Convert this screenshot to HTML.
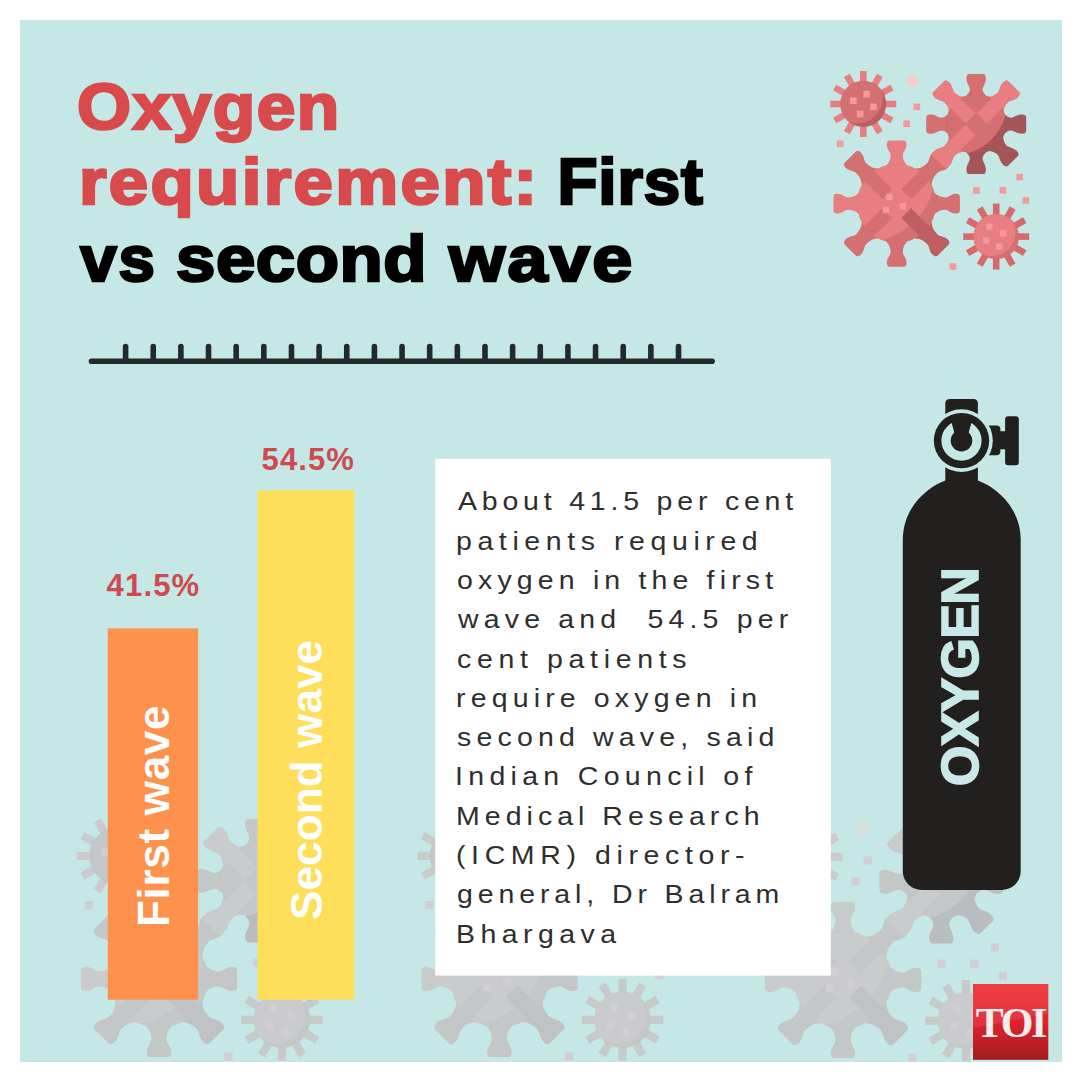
<!DOCTYPE html>
<html><head><meta charset="utf-8"><title>Oxygen requirement: First vs second wave</title>
<style>
html,body{margin:0;padding:0;background:#fff;}
body{width:1080px;height:1080px;position:relative;overflow:hidden;font-family:"Liberation Sans",sans-serif;}
.t{position:absolute;white-space:pre;line-height:1;display:block;transform-origin:0 0;}
</style></head><body>
<svg width="1080" height="1080" viewBox="0 0 1080 1080" style="position:absolute;left:0;top:0">
<defs><clipPath id="panel"><rect x="20" y="20" width="1042" height="1042"/></clipPath><linearGradient id="toig" x1="0" y1="0" x2="0" y2="1"><stop offset="0" stop-color="#ee2a33"/><stop offset="0.5" stop-color="#e0222b"/><stop offset="1" stop-color="#a31c20"/></linearGradient></defs>
<rect x="20" y="20" width="1042" height="1042" fill="#c5e7e5"/>
<g clip-path="url(#panel)">
<g transform="translate(159 979) scale(1.236) translate(-896.7 -203.6)">
<defs><clipPath id="ca1"><circle r="22.9"/></clipPath><clipPath id="cb1"><circle r="30"/></clipPath><clipPath id="cc1"><circle r="39.5"/></clipPath><clipPath id="cd1"><circle r="22.7"/></clipPath></defs>
<rect x="913.5" y="103.6" width="6.6" height="6.6" fill="#d1cfd2"/>
<rect x="903.3" y="120.4" width="6.6" height="6.6" fill="#d1cfd2"/>
<rect x="836.8" y="140.5" width="6.6" height="6.6" fill="#d1cfd2"/>
<rect x="1016.3" y="173.8" width="6.6" height="6.6" fill="#d1cfd2"/>
<rect x="973.1" y="187.1" width="6.6" height="6.6" fill="#d1cfd2"/>
<rect x="999.6" y="187.1" width="6.6" height="6.6" fill="#d1cfd2"/>
<rect x="1022.6" y="197.1" width="6.6" height="6.6" fill="#d1cfd2"/>
<rect x="949.7" y="263.1" width="6.6" height="6.6" fill="#d1cfd2"/>
<circle cx="912.7" cy="80.9" r="6.1" fill="#d6dede"/>
<g transform="translate(863.3 104)">
<rect x="-3.3" y="-33" width="6.6" height="14" fill="#c9cbcd" transform="rotate(0)"/>
<rect x="-3.3" y="-33" width="6.6" height="14" fill="#c9cbcd" transform="rotate(30)"/>
<rect x="-3.3" y="-33" width="6.6" height="14" fill="#c9cbcd" transform="rotate(60)"/>
<rect x="-3.3" y="-33" width="6.6" height="14" fill="#c9cbcd" transform="rotate(90)"/>
<rect x="-3.3" y="-33" width="6.6" height="14" fill="#c9cbcd" transform="rotate(120)"/>
<rect x="-3.3" y="-33" width="6.6" height="14" fill="#c9cbcd" transform="rotate(150)"/>
<rect x="-3.3" y="-33" width="6.6" height="14" fill="#c9cbcd" transform="rotate(180)"/>
<rect x="-3.3" y="-33" width="6.6" height="14" fill="#c9cbcd" transform="rotate(210)"/>
<rect x="-3.3" y="-33" width="6.6" height="14" fill="#c9cbcd" transform="rotate(240)"/>
<rect x="-3.3" y="-33" width="6.6" height="14" fill="#c9cbcd" transform="rotate(270)"/>
<rect x="-3.3" y="-33" width="6.6" height="14" fill="#c9cbcd" transform="rotate(300)"/>
<rect x="-3.3" y="-33" width="6.6" height="14" fill="#c9cbcd" transform="rotate(330)"/>
<circle r="22.9" fill="#bfc3c5"/>
<circle cx="-6" cy="-6" r="25.5" fill="#c3c7c8" clip-path="url(#ca1)"/>
<rect x="0" y="-13.2" width="6.6" height="6.6" fill="#d1cfd2"/>
<rect x="-13.2" y="-6.6" width="6.6" height="6.6" fill="#d1cfd2"/>
<rect x="6.9" y="-0.4" width="6.6" height="6.6" fill="#d1cfd2"/>
<rect x="-6.4" y="6.7" width="6.6" height="6.6" fill="#d1cfd2"/>
</g>
<g transform="translate(896.7 203.6)">
<path d="M-10.5 -35.5L-10.5 -38C-7.6 -41 -6.1 -44.35 -6.1 -48.7C-6.1 -51.7 -9.85 -54.7 -9.85 -58.7C-9.85 -62.2 -8.85 -63.2 -6.35 -63.2L6.35 -63.2C8.85 -63.2 9.85 -62.2 9.85 -58.7C9.85 -54.7 6.1 -51.7 6.1 -48.7C6.1 -44.35 7.6 -41 10.5 -38L10.5 -35.5Z" fill="#c9cbcd" transform="rotate(0)"/>
<path d="M-10.5 -35.5L-10.5 -38C-7.6 -41 -6.1 -44.35 -6.1 -48.7C-6.1 -51.7 -9.85 -54.7 -9.85 -58.7C-9.85 -62.2 -8.85 -63.2 -6.35 -63.2L6.35 -63.2C8.85 -63.2 9.85 -62.2 9.85 -58.7C9.85 -54.7 6.1 -51.7 6.1 -48.7C6.1 -44.35 7.6 -41 10.5 -38L10.5 -35.5Z" fill="#c9cbcd" transform="rotate(270)"/>
<path d="M-10.5 -35.5L-10.5 -38C-7.6 -41 -6.1 -44.35 -6.1 -48.7C-6.1 -51.7 -9.85 -54.7 -9.85 -58.7C-9.85 -62.2 -8.85 -63.2 -6.35 -63.2L6.35 -63.2C8.85 -63.2 9.85 -62.2 9.85 -58.7C9.85 -54.7 6.1 -51.7 6.1 -48.7C6.1 -44.35 7.6 -41 10.5 -38L10.5 -35.5Z" fill="#c3c7c8" transform="rotate(90)"/>
<path d="M-10.5 -35.5L-10.5 -38C-7.6 -41 -6.1 -44.35 -6.1 -48.7C-6.1 -51.7 -9.85 -54.7 -9.85 -58.7C-9.85 -62.2 -8.85 -63.2 -6.35 -63.2L6.35 -63.2C8.85 -63.2 9.85 -62.2 9.85 -58.7C9.85 -54.7 6.1 -51.7 6.1 -48.7C6.1 -44.35 7.6 -41 10.5 -38L10.5 -35.5Z" fill="#c3c7c8" transform="rotate(180)"/>
<path d="M-11.5 -35.5L-11.5 -38C-8.4 -41 -6.9 -45.25 -6.9 -50.5C-6.9 -53.5 -10.6 -56.77 -10.6 -60.77C-10.6 -64.5 -9.6 -65.5 -7.1 -65.5L7.1 -65.5C9.6 -65.5 10.6 -64.5 10.6 -60.77C10.6 -56.77 6.9 -53.5 6.9 -50.5C6.9 -45.25 8.4 -41 11.5 -38L11.5 -35.5Z" fill="#c3c7c8" transform="rotate(315)"/>
<path d="M-11.5 -35.5L-11.5 -38C-8.4 -41 -6.9 -45.25 -6.9 -50.5C-6.9 -53.5 -10.6 -56.77 -10.6 -60.77C-10.6 -64.5 -9.6 -65.5 -7.1 -65.5L7.1 -65.5C9.6 -65.5 10.6 -64.5 10.6 -60.77C10.6 -56.77 6.9 -53.5 6.9 -50.5C6.9 -45.25 8.4 -41 11.5 -38L11.5 -35.5Z" fill="#c3c7c8" transform="rotate(45)"/>
<path d="M-11.5 -35.5L-11.5 -38C-8.4 -41 -6.9 -45.25 -6.9 -50.5C-6.9 -53.5 -10.6 -56.77 -10.6 -60.77C-10.6 -64.5 -9.6 -65.5 -7.1 -65.5L7.1 -65.5C9.6 -65.5 10.6 -64.5 10.6 -60.77C10.6 -56.77 6.9 -53.5 6.9 -50.5C6.9 -45.25 8.4 -41 11.5 -38L11.5 -35.5Z" fill="#c3c7c8" transform="rotate(225)"/>
<path d="M-11.5 -35.5L-11.5 -38C-8.4 -41 -6.9 -45.25 -6.9 -50.5C-6.9 -53.5 -10.6 -56.77 -10.6 -60.77C-10.6 -64.5 -9.6 -65.5 -7.1 -65.5L7.1 -65.5C9.6 -65.5 10.6 -64.5 10.6 -60.77C10.6 -56.77 6.9 -53.5 6.9 -50.5C6.9 -45.25 8.4 -41 11.5 -38L11.5 -35.5Z" fill="#bfc3c5" transform="rotate(135)"/>
<circle r="39.5" fill="#c3c7c8"/>
<circle cx="-31.9" cy="-31.9" r="70.5" fill="#c9cbcd" clip-path="url(#cc1)"/>
<path d="M-6.9 -13.5L-6.9 -38C-8.4 -41 -6.9 -45.25 -6.9 -50.5C-6.9 -53.5 -10.6 -56.77 -10.6 -60.77C-10.6 -64.5 -9.6 -65.5 -7.1 -65.5L7.1 -65.5C9.6 -65.5 10.6 -64.5 10.6 -60.77C10.6 -56.77 6.9 -53.5 6.9 -50.5C6.9 -45.25 8.4 -41 6.9 -38L6.9 -13.5Z" fill="#c3c7c8" transform="rotate(315)"/>
<path d="M-6.9 -13.5L-6.9 -38C-8.4 -41 -6.9 -45.25 -6.9 -50.5C-6.9 -53.5 -10.6 -56.77 -10.6 -60.77C-10.6 -64.5 -9.6 -65.5 -7.1 -65.5L7.1 -65.5C9.6 -65.5 10.6 -64.5 10.6 -60.77C10.6 -56.77 6.9 -53.5 6.9 -50.5C6.9 -45.25 8.4 -41 6.9 -38L6.9 -13.5Z" fill="#c3c7c8" transform="rotate(45)"/>
<path d="M-6.9 -13.5L-6.9 -38C-8.4 -41 -6.9 -45.25 -6.9 -50.5C-6.9 -53.5 -10.6 -56.77 -10.6 -60.77C-10.6 -64.5 -9.6 -65.5 -7.1 -65.5L7.1 -65.5C9.6 -65.5 10.6 -64.5 10.6 -60.77C10.6 -56.77 6.9 -53.5 6.9 -50.5C6.9 -45.25 8.4 -41 6.9 -38L6.9 -13.5Z" fill="#c3c7c8" transform="rotate(225)"/>
<path d="M-6.9 -13.5L-6.9 -38C-8.4 -41 -6.9 -45.25 -6.9 -50.5C-6.9 -53.5 -10.6 -56.77 -10.6 -60.77C-10.6 -64.5 -9.6 -65.5 -7.1 -65.5L7.1 -65.5C9.6 -65.5 10.6 -64.5 10.6 -60.77C10.6 -56.77 6.9 -53.5 6.9 -50.5C6.9 -45.25 8.4 -41 6.9 -38L6.9 -13.5Z" fill="#bfc3c5" transform="rotate(135)"/>
<rect x="-10.5" y="-10" width="6.4" height="6.4" fill="#d1cfd2"/>
<rect x="2.9" y="-0.6" width="6.4" height="6.4" fill="#d1cfd2"/>
<rect x="-14" y="3.2" width="6.4" height="6.4" fill="#d1cfd2"/>
</g>
<g transform="translate(976.2 124.1)">
<path d="M-10.5 -25L-10.5 -27.5C-7.9 -30.5 -6.4 -32 -6.4 -34.5C-6.4 -37.5 -9.7 -41.05 -9.7 -45.05C-9.7 -49 -8.7 -50 -6.2 -50L6.2 -50C8.7 -50 9.7 -49 9.7 -45.05C9.7 -41.05 6.4 -37.5 6.4 -34.5C6.4 -32 7.9 -30.5 10.5 -27.5L10.5 -25Z" fill="#c3c7c8" transform="rotate(0)"/>
<path d="M-10.5 -25L-10.5 -27.5C-7.9 -30.5 -6.4 -32 -6.4 -34.5C-6.4 -37.5 -9.7 -41.05 -9.7 -45.05C-9.7 -49 -8.7 -50 -6.2 -50L6.2 -50C8.7 -50 9.7 -49 9.7 -45.05C9.7 -41.05 6.4 -37.5 6.4 -34.5C6.4 -32 7.9 -30.5 10.5 -27.5L10.5 -25Z" fill="#c3c7c8" transform="rotate(270)"/>
<path d="M-10.5 -25L-10.5 -27.5C-7.9 -30.5 -6.4 -32 -6.4 -34.5C-6.4 -37.5 -9.7 -41.05 -9.7 -45.05C-9.7 -49 -8.7 -50 -6.2 -50L6.2 -50C8.7 -50 9.7 -49 9.7 -45.05C9.7 -41.05 6.4 -37.5 6.4 -34.5C6.4 -32 7.9 -30.5 10.5 -27.5L10.5 -25Z" fill="#b9bdbf" transform="rotate(90)"/>
<path d="M-10.5 -25L-10.5 -27.5C-7.9 -30.5 -6.4 -32 -6.4 -34.5C-6.4 -37.5 -9.7 -41.05 -9.7 -45.05C-9.7 -49 -8.7 -50 -6.2 -50L6.2 -50C8.7 -50 9.7 -49 9.7 -45.05C9.7 -41.05 6.4 -37.5 6.4 -34.5C6.4 -32 7.9 -30.5 10.5 -27.5L10.5 -25Z" fill="#b9bdbf" transform="rotate(180)"/>
<path d="M-10.5 -25L-10.5 -27.5C-7.9 -30.5 -6.4 -33 -6.4 -36.5C-6.4 -39.5 -9.7 -43.05 -9.7 -47.05C-9.7 -51 -8.7 -52 -6.2 -52L6.2 -52C8.7 -52 9.7 -51 9.7 -47.05C9.7 -43.05 6.4 -39.5 6.4 -36.5C6.4 -33 7.9 -30.5 10.5 -27.5L10.5 -25Z" fill="#b9bdbf" transform="rotate(135)"/>
<path d="M-11.5 -25L-11.5 -27.5C-8.5 -30.5 -7 -33.5 -7 -37.5C-7 -40.5 -10.4 -44.05 -10.4 -48.05C-10.4 -52 -9.4 -53 -6.9 -53L6.9 -53C9.4 -53 10.4 -52 10.4 -48.05C10.4 -44.05 7 -40.5 7 -37.5C7 -33.5 8.5 -30.5 11.5 -27.5L11.5 -25Z" fill="#c9cbcd" transform="rotate(315)"/>
<path d="M-11.5 -25L-11.5 -27.5C-8.5 -30.5 -7 -33.5 -7 -37.5C-7 -40.5 -10.4 -44.05 -10.4 -48.05C-10.4 -52 -9.4 -53 -6.9 -53L6.9 -53C9.4 -53 10.4 -52 10.4 -48.05C10.4 -44.05 7 -40.5 7 -37.5C7 -33.5 8.5 -30.5 11.5 -27.5L11.5 -25Z" fill="#c9cbcd" transform="rotate(45)"/>
<path d="M-11.5 -25L-11.5 -27.5C-8.5 -30.5 -7 -33.5 -7 -37.5C-7 -40.5 -10.4 -44.05 -10.4 -48.05C-10.4 -52 -9.4 -53 -6.9 -53L6.9 -53C9.4 -53 10.4 -52 10.4 -48.05C10.4 -44.05 7 -40.5 7 -37.5C7 -33.5 8.5 -30.5 11.5 -27.5L11.5 -25Z" fill="#c9cbcd" transform="rotate(225)"/>
<circle r="30" fill="#b9bdbf"/>
<circle cx="-22.8" cy="-22.8" r="53.9" fill="#c3c7c8" clip-path="url(#cb1)"/>
<path d="M-7 -8L-7 -27.5C-8.5 -30.5 -7 -33.5 -7 -37.5C-7 -40.5 -10.4 -44.05 -10.4 -48.05C-10.4 -52 -9.4 -53 -6.9 -53L6.9 -53C9.4 -53 10.4 -52 10.4 -48.05C10.4 -44.05 7 -40.5 7 -37.5C7 -33.5 8.5 -30.5 7 -27.5L7 -8Z" fill="#c9cbcd" transform="rotate(315)"/>
<path d="M-7 -8L-7 -27.5C-8.5 -30.5 -7 -33.5 -7 -37.5C-7 -40.5 -10.4 -44.05 -10.4 -48.05C-10.4 -52 -9.4 -53 -6.9 -53L6.9 -53C9.4 -53 10.4 -52 10.4 -48.05C10.4 -44.05 7 -40.5 7 -37.5C7 -33.5 8.5 -30.5 7 -27.5L7 -8Z" fill="#c9cbcd" transform="rotate(45)"/>
<path d="M-7 -8L-7 -27.5C-8.5 -30.5 -7 -33.5 -7 -37.5C-7 -40.5 -10.4 -44.05 -10.4 -48.05C-10.4 -52 -9.4 -53 -6.9 -53L6.9 -53C9.4 -53 10.4 -52 10.4 -48.05C10.4 -44.05 7 -40.5 7 -37.5C7 -33.5 8.5 -30.5 7 -27.5L7 -8Z" fill="#c9cbcd" transform="rotate(225)"/>
</g>
<g transform="translate(996.2 236.6)">
<rect x="-3.3" y="-33" width="6.6" height="14" fill="#c6cacb" transform="rotate(0)"/>
<rect x="-3.3" y="-33" width="6.6" height="14" fill="#c6cacb" transform="rotate(30)"/>
<rect x="-3.3" y="-33" width="6.6" height="14" fill="#c6cacb" transform="rotate(60)"/>
<rect x="-3.3" y="-33" width="6.6" height="14" fill="#c6cacb" transform="rotate(90)"/>
<rect x="-3.3" y="-33" width="6.6" height="14" fill="#c6cacb" transform="rotate(120)"/>
<rect x="-3.3" y="-33" width="6.6" height="14" fill="#c6cacb" transform="rotate(150)"/>
<rect x="-3.3" y="-33" width="6.6" height="14" fill="#c6cacb" transform="rotate(180)"/>
<rect x="-3.3" y="-33" width="6.6" height="14" fill="#c6cacb" transform="rotate(210)"/>
<rect x="-3.3" y="-33" width="6.6" height="14" fill="#c6cacb" transform="rotate(240)"/>
<rect x="-3.3" y="-33" width="6.6" height="14" fill="#c6cacb" transform="rotate(270)"/>
<rect x="-3.3" y="-33" width="6.6" height="14" fill="#c6cacb" transform="rotate(300)"/>
<rect x="-3.3" y="-33" width="6.6" height="14" fill="#c6cacb" transform="rotate(330)"/>
<circle r="22.7" fill="#c3c7c8"/>
<circle cx="-4" cy="-4" r="23.3" fill="#c9cbcd" clip-path="url(#cd1)"/>
<rect x="-10" y="-13.1" width="6.4" height="6.4" fill="#d1cfd2"/>
<rect x="3.7" y="-6.5" width="6.4" height="6.4" fill="#d1cfd2"/>
<rect x="-13.1" y="0.7" width="6.4" height="6.4" fill="#d1cfd2"/>
<rect x="-0.3" y="6.8" width="6.4" height="6.4" fill="#d1cfd2"/>
</g>
</g>
<g transform="translate(499.5 979) scale(1.236) translate(-896.7 -203.6)">
<defs><clipPath id="ca2"><circle r="22.9"/></clipPath><clipPath id="cb2"><circle r="30"/></clipPath><clipPath id="cc2"><circle r="39.5"/></clipPath><clipPath id="cd2"><circle r="22.7"/></clipPath></defs>
<rect x="913.5" y="103.6" width="6.6" height="6.6" fill="#d1cfd2"/>
<rect x="903.3" y="120.4" width="6.6" height="6.6" fill="#d1cfd2"/>
<rect x="836.8" y="140.5" width="6.6" height="6.6" fill="#d1cfd2"/>
<rect x="1016.3" y="173.8" width="6.6" height="6.6" fill="#d1cfd2"/>
<rect x="973.1" y="187.1" width="6.6" height="6.6" fill="#d1cfd2"/>
<rect x="999.6" y="187.1" width="6.6" height="6.6" fill="#d1cfd2"/>
<rect x="1022.6" y="197.1" width="6.6" height="6.6" fill="#d1cfd2"/>
<rect x="949.7" y="263.1" width="6.6" height="6.6" fill="#d1cfd2"/>
<circle cx="912.7" cy="80.9" r="6.1" fill="#d6dede"/>
<g transform="translate(863.3 104)">
<rect x="-3.3" y="-33" width="6.6" height="14" fill="#c9cbcd" transform="rotate(0)"/>
<rect x="-3.3" y="-33" width="6.6" height="14" fill="#c9cbcd" transform="rotate(30)"/>
<rect x="-3.3" y="-33" width="6.6" height="14" fill="#c9cbcd" transform="rotate(60)"/>
<rect x="-3.3" y="-33" width="6.6" height="14" fill="#c9cbcd" transform="rotate(90)"/>
<rect x="-3.3" y="-33" width="6.6" height="14" fill="#c9cbcd" transform="rotate(120)"/>
<rect x="-3.3" y="-33" width="6.6" height="14" fill="#c9cbcd" transform="rotate(150)"/>
<rect x="-3.3" y="-33" width="6.6" height="14" fill="#c9cbcd" transform="rotate(180)"/>
<rect x="-3.3" y="-33" width="6.6" height="14" fill="#c9cbcd" transform="rotate(210)"/>
<rect x="-3.3" y="-33" width="6.6" height="14" fill="#c9cbcd" transform="rotate(240)"/>
<rect x="-3.3" y="-33" width="6.6" height="14" fill="#c9cbcd" transform="rotate(270)"/>
<rect x="-3.3" y="-33" width="6.6" height="14" fill="#c9cbcd" transform="rotate(300)"/>
<rect x="-3.3" y="-33" width="6.6" height="14" fill="#c9cbcd" transform="rotate(330)"/>
<circle r="22.9" fill="#bfc3c5"/>
<circle cx="-6" cy="-6" r="25.5" fill="#c3c7c8" clip-path="url(#ca2)"/>
<rect x="0" y="-13.2" width="6.6" height="6.6" fill="#d1cfd2"/>
<rect x="-13.2" y="-6.6" width="6.6" height="6.6" fill="#d1cfd2"/>
<rect x="6.9" y="-0.4" width="6.6" height="6.6" fill="#d1cfd2"/>
<rect x="-6.4" y="6.7" width="6.6" height="6.6" fill="#d1cfd2"/>
</g>
<g transform="translate(896.7 203.6)">
<path d="M-10.5 -35.5L-10.5 -38C-7.6 -41 -6.1 -44.35 -6.1 -48.7C-6.1 -51.7 -9.85 -54.7 -9.85 -58.7C-9.85 -62.2 -8.85 -63.2 -6.35 -63.2L6.35 -63.2C8.85 -63.2 9.85 -62.2 9.85 -58.7C9.85 -54.7 6.1 -51.7 6.1 -48.7C6.1 -44.35 7.6 -41 10.5 -38L10.5 -35.5Z" fill="#c9cbcd" transform="rotate(0)"/>
<path d="M-10.5 -35.5L-10.5 -38C-7.6 -41 -6.1 -44.35 -6.1 -48.7C-6.1 -51.7 -9.85 -54.7 -9.85 -58.7C-9.85 -62.2 -8.85 -63.2 -6.35 -63.2L6.35 -63.2C8.85 -63.2 9.85 -62.2 9.85 -58.7C9.85 -54.7 6.1 -51.7 6.1 -48.7C6.1 -44.35 7.6 -41 10.5 -38L10.5 -35.5Z" fill="#c9cbcd" transform="rotate(270)"/>
<path d="M-10.5 -35.5L-10.5 -38C-7.6 -41 -6.1 -44.35 -6.1 -48.7C-6.1 -51.7 -9.85 -54.7 -9.85 -58.7C-9.85 -62.2 -8.85 -63.2 -6.35 -63.2L6.35 -63.2C8.85 -63.2 9.85 -62.2 9.85 -58.7C9.85 -54.7 6.1 -51.7 6.1 -48.7C6.1 -44.35 7.6 -41 10.5 -38L10.5 -35.5Z" fill="#c3c7c8" transform="rotate(90)"/>
<path d="M-10.5 -35.5L-10.5 -38C-7.6 -41 -6.1 -44.35 -6.1 -48.7C-6.1 -51.7 -9.85 -54.7 -9.85 -58.7C-9.85 -62.2 -8.85 -63.2 -6.35 -63.2L6.35 -63.2C8.85 -63.2 9.85 -62.2 9.85 -58.7C9.85 -54.7 6.1 -51.7 6.1 -48.7C6.1 -44.35 7.6 -41 10.5 -38L10.5 -35.5Z" fill="#c3c7c8" transform="rotate(180)"/>
<path d="M-11.5 -35.5L-11.5 -38C-8.4 -41 -6.9 -45.25 -6.9 -50.5C-6.9 -53.5 -10.6 -56.77 -10.6 -60.77C-10.6 -64.5 -9.6 -65.5 -7.1 -65.5L7.1 -65.5C9.6 -65.5 10.6 -64.5 10.6 -60.77C10.6 -56.77 6.9 -53.5 6.9 -50.5C6.9 -45.25 8.4 -41 11.5 -38L11.5 -35.5Z" fill="#c3c7c8" transform="rotate(315)"/>
<path d="M-11.5 -35.5L-11.5 -38C-8.4 -41 -6.9 -45.25 -6.9 -50.5C-6.9 -53.5 -10.6 -56.77 -10.6 -60.77C-10.6 -64.5 -9.6 -65.5 -7.1 -65.5L7.1 -65.5C9.6 -65.5 10.6 -64.5 10.6 -60.77C10.6 -56.77 6.9 -53.5 6.9 -50.5C6.9 -45.25 8.4 -41 11.5 -38L11.5 -35.5Z" fill="#c3c7c8" transform="rotate(45)"/>
<path d="M-11.5 -35.5L-11.5 -38C-8.4 -41 -6.9 -45.25 -6.9 -50.5C-6.9 -53.5 -10.6 -56.77 -10.6 -60.77C-10.6 -64.5 -9.6 -65.5 -7.1 -65.5L7.1 -65.5C9.6 -65.5 10.6 -64.5 10.6 -60.77C10.6 -56.77 6.9 -53.5 6.9 -50.5C6.9 -45.25 8.4 -41 11.5 -38L11.5 -35.5Z" fill="#c3c7c8" transform="rotate(225)"/>
<path d="M-11.5 -35.5L-11.5 -38C-8.4 -41 -6.9 -45.25 -6.9 -50.5C-6.9 -53.5 -10.6 -56.77 -10.6 -60.77C-10.6 -64.5 -9.6 -65.5 -7.1 -65.5L7.1 -65.5C9.6 -65.5 10.6 -64.5 10.6 -60.77C10.6 -56.77 6.9 -53.5 6.9 -50.5C6.9 -45.25 8.4 -41 11.5 -38L11.5 -35.5Z" fill="#bfc3c5" transform="rotate(135)"/>
<circle r="39.5" fill="#c3c7c8"/>
<circle cx="-31.9" cy="-31.9" r="70.5" fill="#c9cbcd" clip-path="url(#cc2)"/>
<path d="M-6.9 -13.5L-6.9 -38C-8.4 -41 -6.9 -45.25 -6.9 -50.5C-6.9 -53.5 -10.6 -56.77 -10.6 -60.77C-10.6 -64.5 -9.6 -65.5 -7.1 -65.5L7.1 -65.5C9.6 -65.5 10.6 -64.5 10.6 -60.77C10.6 -56.77 6.9 -53.5 6.9 -50.5C6.9 -45.25 8.4 -41 6.9 -38L6.9 -13.5Z" fill="#c3c7c8" transform="rotate(315)"/>
<path d="M-6.9 -13.5L-6.9 -38C-8.4 -41 -6.9 -45.25 -6.9 -50.5C-6.9 -53.5 -10.6 -56.77 -10.6 -60.77C-10.6 -64.5 -9.6 -65.5 -7.1 -65.5L7.1 -65.5C9.6 -65.5 10.6 -64.5 10.6 -60.77C10.6 -56.77 6.9 -53.5 6.9 -50.5C6.9 -45.25 8.4 -41 6.9 -38L6.9 -13.5Z" fill="#c3c7c8" transform="rotate(45)"/>
<path d="M-6.9 -13.5L-6.9 -38C-8.4 -41 -6.9 -45.25 -6.9 -50.5C-6.9 -53.5 -10.6 -56.77 -10.6 -60.77C-10.6 -64.5 -9.6 -65.5 -7.1 -65.5L7.1 -65.5C9.6 -65.5 10.6 -64.5 10.6 -60.77C10.6 -56.77 6.9 -53.5 6.9 -50.5C6.9 -45.25 8.4 -41 6.9 -38L6.9 -13.5Z" fill="#c3c7c8" transform="rotate(225)"/>
<path d="M-6.9 -13.5L-6.9 -38C-8.4 -41 -6.9 -45.25 -6.9 -50.5C-6.9 -53.5 -10.6 -56.77 -10.6 -60.77C-10.6 -64.5 -9.6 -65.5 -7.1 -65.5L7.1 -65.5C9.6 -65.5 10.6 -64.5 10.6 -60.77C10.6 -56.77 6.9 -53.5 6.9 -50.5C6.9 -45.25 8.4 -41 6.9 -38L6.9 -13.5Z" fill="#bfc3c5" transform="rotate(135)"/>
<rect x="-10.5" y="-10" width="6.4" height="6.4" fill="#d1cfd2"/>
<rect x="2.9" y="-0.6" width="6.4" height="6.4" fill="#d1cfd2"/>
<rect x="-14" y="3.2" width="6.4" height="6.4" fill="#d1cfd2"/>
</g>
<g transform="translate(976.2 124.1)">
<path d="M-10.5 -25L-10.5 -27.5C-7.9 -30.5 -6.4 -32 -6.4 -34.5C-6.4 -37.5 -9.7 -41.05 -9.7 -45.05C-9.7 -49 -8.7 -50 -6.2 -50L6.2 -50C8.7 -50 9.7 -49 9.7 -45.05C9.7 -41.05 6.4 -37.5 6.4 -34.5C6.4 -32 7.9 -30.5 10.5 -27.5L10.5 -25Z" fill="#c3c7c8" transform="rotate(0)"/>
<path d="M-10.5 -25L-10.5 -27.5C-7.9 -30.5 -6.4 -32 -6.4 -34.5C-6.4 -37.5 -9.7 -41.05 -9.7 -45.05C-9.7 -49 -8.7 -50 -6.2 -50L6.2 -50C8.7 -50 9.7 -49 9.7 -45.05C9.7 -41.05 6.4 -37.5 6.4 -34.5C6.4 -32 7.9 -30.5 10.5 -27.5L10.5 -25Z" fill="#c3c7c8" transform="rotate(270)"/>
<path d="M-10.5 -25L-10.5 -27.5C-7.9 -30.5 -6.4 -32 -6.4 -34.5C-6.4 -37.5 -9.7 -41.05 -9.7 -45.05C-9.7 -49 -8.7 -50 -6.2 -50L6.2 -50C8.7 -50 9.7 -49 9.7 -45.05C9.7 -41.05 6.4 -37.5 6.4 -34.5C6.4 -32 7.9 -30.5 10.5 -27.5L10.5 -25Z" fill="#b9bdbf" transform="rotate(90)"/>
<path d="M-10.5 -25L-10.5 -27.5C-7.9 -30.5 -6.4 -32 -6.4 -34.5C-6.4 -37.5 -9.7 -41.05 -9.7 -45.05C-9.7 -49 -8.7 -50 -6.2 -50L6.2 -50C8.7 -50 9.7 -49 9.7 -45.05C9.7 -41.05 6.4 -37.5 6.4 -34.5C6.4 -32 7.9 -30.5 10.5 -27.5L10.5 -25Z" fill="#b9bdbf" transform="rotate(180)"/>
<path d="M-10.5 -25L-10.5 -27.5C-7.9 -30.5 -6.4 -33 -6.4 -36.5C-6.4 -39.5 -9.7 -43.05 -9.7 -47.05C-9.7 -51 -8.7 -52 -6.2 -52L6.2 -52C8.7 -52 9.7 -51 9.7 -47.05C9.7 -43.05 6.4 -39.5 6.4 -36.5C6.4 -33 7.9 -30.5 10.5 -27.5L10.5 -25Z" fill="#b9bdbf" transform="rotate(135)"/>
<path d="M-11.5 -25L-11.5 -27.5C-8.5 -30.5 -7 -33.5 -7 -37.5C-7 -40.5 -10.4 -44.05 -10.4 -48.05C-10.4 -52 -9.4 -53 -6.9 -53L6.9 -53C9.4 -53 10.4 -52 10.4 -48.05C10.4 -44.05 7 -40.5 7 -37.5C7 -33.5 8.5 -30.5 11.5 -27.5L11.5 -25Z" fill="#c9cbcd" transform="rotate(315)"/>
<path d="M-11.5 -25L-11.5 -27.5C-8.5 -30.5 -7 -33.5 -7 -37.5C-7 -40.5 -10.4 -44.05 -10.4 -48.05C-10.4 -52 -9.4 -53 -6.9 -53L6.9 -53C9.4 -53 10.4 -52 10.4 -48.05C10.4 -44.05 7 -40.5 7 -37.5C7 -33.5 8.5 -30.5 11.5 -27.5L11.5 -25Z" fill="#c9cbcd" transform="rotate(45)"/>
<path d="M-11.5 -25L-11.5 -27.5C-8.5 -30.5 -7 -33.5 -7 -37.5C-7 -40.5 -10.4 -44.05 -10.4 -48.05C-10.4 -52 -9.4 -53 -6.9 -53L6.9 -53C9.4 -53 10.4 -52 10.4 -48.05C10.4 -44.05 7 -40.5 7 -37.5C7 -33.5 8.5 -30.5 11.5 -27.5L11.5 -25Z" fill="#c9cbcd" transform="rotate(225)"/>
<circle r="30" fill="#b9bdbf"/>
<circle cx="-22.8" cy="-22.8" r="53.9" fill="#c3c7c8" clip-path="url(#cb2)"/>
<path d="M-7 -8L-7 -27.5C-8.5 -30.5 -7 -33.5 -7 -37.5C-7 -40.5 -10.4 -44.05 -10.4 -48.05C-10.4 -52 -9.4 -53 -6.9 -53L6.9 -53C9.4 -53 10.4 -52 10.4 -48.05C10.4 -44.05 7 -40.5 7 -37.5C7 -33.5 8.5 -30.5 7 -27.5L7 -8Z" fill="#c9cbcd" transform="rotate(315)"/>
<path d="M-7 -8L-7 -27.5C-8.5 -30.5 -7 -33.5 -7 -37.5C-7 -40.5 -10.4 -44.05 -10.4 -48.05C-10.4 -52 -9.4 -53 -6.9 -53L6.9 -53C9.4 -53 10.4 -52 10.4 -48.05C10.4 -44.05 7 -40.5 7 -37.5C7 -33.5 8.5 -30.5 7 -27.5L7 -8Z" fill="#c9cbcd" transform="rotate(45)"/>
<path d="M-7 -8L-7 -27.5C-8.5 -30.5 -7 -33.5 -7 -37.5C-7 -40.5 -10.4 -44.05 -10.4 -48.05C-10.4 -52 -9.4 -53 -6.9 -53L6.9 -53C9.4 -53 10.4 -52 10.4 -48.05C10.4 -44.05 7 -40.5 7 -37.5C7 -33.5 8.5 -30.5 7 -27.5L7 -8Z" fill="#c9cbcd" transform="rotate(225)"/>
</g>
<g transform="translate(996.2 236.6)">
<rect x="-3.3" y="-33" width="6.6" height="14" fill="#c6cacb" transform="rotate(0)"/>
<rect x="-3.3" y="-33" width="6.6" height="14" fill="#c6cacb" transform="rotate(30)"/>
<rect x="-3.3" y="-33" width="6.6" height="14" fill="#c6cacb" transform="rotate(60)"/>
<rect x="-3.3" y="-33" width="6.6" height="14" fill="#c6cacb" transform="rotate(90)"/>
<rect x="-3.3" y="-33" width="6.6" height="14" fill="#c6cacb" transform="rotate(120)"/>
<rect x="-3.3" y="-33" width="6.6" height="14" fill="#c6cacb" transform="rotate(150)"/>
<rect x="-3.3" y="-33" width="6.6" height="14" fill="#c6cacb" transform="rotate(180)"/>
<rect x="-3.3" y="-33" width="6.6" height="14" fill="#c6cacb" transform="rotate(210)"/>
<rect x="-3.3" y="-33" width="6.6" height="14" fill="#c6cacb" transform="rotate(240)"/>
<rect x="-3.3" y="-33" width="6.6" height="14" fill="#c6cacb" transform="rotate(270)"/>
<rect x="-3.3" y="-33" width="6.6" height="14" fill="#c6cacb" transform="rotate(300)"/>
<rect x="-3.3" y="-33" width="6.6" height="14" fill="#c6cacb" transform="rotate(330)"/>
<circle r="22.7" fill="#c3c7c8"/>
<circle cx="-4" cy="-4" r="23.3" fill="#c9cbcd" clip-path="url(#cd2)"/>
<rect x="-10" y="-13.1" width="6.4" height="6.4" fill="#d1cfd2"/>
<rect x="3.7" y="-6.5" width="6.4" height="6.4" fill="#d1cfd2"/>
<rect x="-13.1" y="0.7" width="6.4" height="6.4" fill="#d1cfd2"/>
<rect x="-0.3" y="6.8" width="6.4" height="6.4" fill="#d1cfd2"/>
</g>
</g>
<g transform="translate(843 980) scale(1.236) translate(-896.7 -203.6)">
<defs><clipPath id="ca3"><circle r="22.9"/></clipPath><clipPath id="cb3"><circle r="30"/></clipPath><clipPath id="cc3"><circle r="39.5"/></clipPath><clipPath id="cd3"><circle r="22.7"/></clipPath></defs>
<rect x="913.5" y="103.6" width="6.6" height="6.6" fill="#d1cfd2"/>
<rect x="903.3" y="120.4" width="6.6" height="6.6" fill="#d1cfd2"/>
<rect x="836.8" y="140.5" width="6.6" height="6.6" fill="#d1cfd2"/>
<rect x="1016.3" y="173.8" width="6.6" height="6.6" fill="#d1cfd2"/>
<rect x="973.1" y="187.1" width="6.6" height="6.6" fill="#d1cfd2"/>
<rect x="999.6" y="187.1" width="6.6" height="6.6" fill="#d1cfd2"/>
<rect x="1022.6" y="197.1" width="6.6" height="6.6" fill="#d1cfd2"/>
<rect x="949.7" y="263.1" width="6.6" height="6.6" fill="#d1cfd2"/>
<circle cx="912.7" cy="80.9" r="6.1" fill="#d6dede"/>
<g transform="translate(863.3 104)">
<rect x="-3.3" y="-33" width="6.6" height="14" fill="#c9cbcd" transform="rotate(0)"/>
<rect x="-3.3" y="-33" width="6.6" height="14" fill="#c9cbcd" transform="rotate(30)"/>
<rect x="-3.3" y="-33" width="6.6" height="14" fill="#c9cbcd" transform="rotate(60)"/>
<rect x="-3.3" y="-33" width="6.6" height="14" fill="#c9cbcd" transform="rotate(90)"/>
<rect x="-3.3" y="-33" width="6.6" height="14" fill="#c9cbcd" transform="rotate(120)"/>
<rect x="-3.3" y="-33" width="6.6" height="14" fill="#c9cbcd" transform="rotate(150)"/>
<rect x="-3.3" y="-33" width="6.6" height="14" fill="#c9cbcd" transform="rotate(180)"/>
<rect x="-3.3" y="-33" width="6.6" height="14" fill="#c9cbcd" transform="rotate(210)"/>
<rect x="-3.3" y="-33" width="6.6" height="14" fill="#c9cbcd" transform="rotate(240)"/>
<rect x="-3.3" y="-33" width="6.6" height="14" fill="#c9cbcd" transform="rotate(270)"/>
<rect x="-3.3" y="-33" width="6.6" height="14" fill="#c9cbcd" transform="rotate(300)"/>
<rect x="-3.3" y="-33" width="6.6" height="14" fill="#c9cbcd" transform="rotate(330)"/>
<circle r="22.9" fill="#bfc3c5"/>
<circle cx="-6" cy="-6" r="25.5" fill="#c3c7c8" clip-path="url(#ca3)"/>
<rect x="0" y="-13.2" width="6.6" height="6.6" fill="#d1cfd2"/>
<rect x="-13.2" y="-6.6" width="6.6" height="6.6" fill="#d1cfd2"/>
<rect x="6.9" y="-0.4" width="6.6" height="6.6" fill="#d1cfd2"/>
<rect x="-6.4" y="6.7" width="6.6" height="6.6" fill="#d1cfd2"/>
</g>
<g transform="translate(896.7 203.6)">
<path d="M-10.5 -35.5L-10.5 -38C-7.6 -41 -6.1 -44.35 -6.1 -48.7C-6.1 -51.7 -9.85 -54.7 -9.85 -58.7C-9.85 -62.2 -8.85 -63.2 -6.35 -63.2L6.35 -63.2C8.85 -63.2 9.85 -62.2 9.85 -58.7C9.85 -54.7 6.1 -51.7 6.1 -48.7C6.1 -44.35 7.6 -41 10.5 -38L10.5 -35.5Z" fill="#c9cbcd" transform="rotate(0)"/>
<path d="M-10.5 -35.5L-10.5 -38C-7.6 -41 -6.1 -44.35 -6.1 -48.7C-6.1 -51.7 -9.85 -54.7 -9.85 -58.7C-9.85 -62.2 -8.85 -63.2 -6.35 -63.2L6.35 -63.2C8.85 -63.2 9.85 -62.2 9.85 -58.7C9.85 -54.7 6.1 -51.7 6.1 -48.7C6.1 -44.35 7.6 -41 10.5 -38L10.5 -35.5Z" fill="#c9cbcd" transform="rotate(270)"/>
<path d="M-10.5 -35.5L-10.5 -38C-7.6 -41 -6.1 -44.35 -6.1 -48.7C-6.1 -51.7 -9.85 -54.7 -9.85 -58.7C-9.85 -62.2 -8.85 -63.2 -6.35 -63.2L6.35 -63.2C8.85 -63.2 9.85 -62.2 9.85 -58.7C9.85 -54.7 6.1 -51.7 6.1 -48.7C6.1 -44.35 7.6 -41 10.5 -38L10.5 -35.5Z" fill="#c3c7c8" transform="rotate(90)"/>
<path d="M-10.5 -35.5L-10.5 -38C-7.6 -41 -6.1 -44.35 -6.1 -48.7C-6.1 -51.7 -9.85 -54.7 -9.85 -58.7C-9.85 -62.2 -8.85 -63.2 -6.35 -63.2L6.35 -63.2C8.85 -63.2 9.85 -62.2 9.85 -58.7C9.85 -54.7 6.1 -51.7 6.1 -48.7C6.1 -44.35 7.6 -41 10.5 -38L10.5 -35.5Z" fill="#c3c7c8" transform="rotate(180)"/>
<path d="M-11.5 -35.5L-11.5 -38C-8.4 -41 -6.9 -45.25 -6.9 -50.5C-6.9 -53.5 -10.6 -56.77 -10.6 -60.77C-10.6 -64.5 -9.6 -65.5 -7.1 -65.5L7.1 -65.5C9.6 -65.5 10.6 -64.5 10.6 -60.77C10.6 -56.77 6.9 -53.5 6.9 -50.5C6.9 -45.25 8.4 -41 11.5 -38L11.5 -35.5Z" fill="#c3c7c8" transform="rotate(315)"/>
<path d="M-11.5 -35.5L-11.5 -38C-8.4 -41 -6.9 -45.25 -6.9 -50.5C-6.9 -53.5 -10.6 -56.77 -10.6 -60.77C-10.6 -64.5 -9.6 -65.5 -7.1 -65.5L7.1 -65.5C9.6 -65.5 10.6 -64.5 10.6 -60.77C10.6 -56.77 6.9 -53.5 6.9 -50.5C6.9 -45.25 8.4 -41 11.5 -38L11.5 -35.5Z" fill="#c3c7c8" transform="rotate(45)"/>
<path d="M-11.5 -35.5L-11.5 -38C-8.4 -41 -6.9 -45.25 -6.9 -50.5C-6.9 -53.5 -10.6 -56.77 -10.6 -60.77C-10.6 -64.5 -9.6 -65.5 -7.1 -65.5L7.1 -65.5C9.6 -65.5 10.6 -64.5 10.6 -60.77C10.6 -56.77 6.9 -53.5 6.9 -50.5C6.9 -45.25 8.4 -41 11.5 -38L11.5 -35.5Z" fill="#c3c7c8" transform="rotate(225)"/>
<path d="M-11.5 -35.5L-11.5 -38C-8.4 -41 -6.9 -45.25 -6.9 -50.5C-6.9 -53.5 -10.6 -56.77 -10.6 -60.77C-10.6 -64.5 -9.6 -65.5 -7.1 -65.5L7.1 -65.5C9.6 -65.5 10.6 -64.5 10.6 -60.77C10.6 -56.77 6.9 -53.5 6.9 -50.5C6.9 -45.25 8.4 -41 11.5 -38L11.5 -35.5Z" fill="#bfc3c5" transform="rotate(135)"/>
<circle r="39.5" fill="#c3c7c8"/>
<circle cx="-31.9" cy="-31.9" r="70.5" fill="#c9cbcd" clip-path="url(#cc3)"/>
<path d="M-6.9 -13.5L-6.9 -38C-8.4 -41 -6.9 -45.25 -6.9 -50.5C-6.9 -53.5 -10.6 -56.77 -10.6 -60.77C-10.6 -64.5 -9.6 -65.5 -7.1 -65.5L7.1 -65.5C9.6 -65.5 10.6 -64.5 10.6 -60.77C10.6 -56.77 6.9 -53.5 6.9 -50.5C6.9 -45.25 8.4 -41 6.9 -38L6.9 -13.5Z" fill="#c3c7c8" transform="rotate(315)"/>
<path d="M-6.9 -13.5L-6.9 -38C-8.4 -41 -6.9 -45.25 -6.9 -50.5C-6.9 -53.5 -10.6 -56.77 -10.6 -60.77C-10.6 -64.5 -9.6 -65.5 -7.1 -65.5L7.1 -65.5C9.6 -65.5 10.6 -64.5 10.6 -60.77C10.6 -56.77 6.9 -53.5 6.9 -50.5C6.9 -45.25 8.4 -41 6.9 -38L6.9 -13.5Z" fill="#c3c7c8" transform="rotate(45)"/>
<path d="M-6.9 -13.5L-6.9 -38C-8.4 -41 -6.9 -45.25 -6.9 -50.5C-6.9 -53.5 -10.6 -56.77 -10.6 -60.77C-10.6 -64.5 -9.6 -65.5 -7.1 -65.5L7.1 -65.5C9.6 -65.5 10.6 -64.5 10.6 -60.77C10.6 -56.77 6.9 -53.5 6.9 -50.5C6.9 -45.25 8.4 -41 6.9 -38L6.9 -13.5Z" fill="#c3c7c8" transform="rotate(225)"/>
<path d="M-6.9 -13.5L-6.9 -38C-8.4 -41 -6.9 -45.25 -6.9 -50.5C-6.9 -53.5 -10.6 -56.77 -10.6 -60.77C-10.6 -64.5 -9.6 -65.5 -7.1 -65.5L7.1 -65.5C9.6 -65.5 10.6 -64.5 10.6 -60.77C10.6 -56.77 6.9 -53.5 6.9 -50.5C6.9 -45.25 8.4 -41 6.9 -38L6.9 -13.5Z" fill="#bfc3c5" transform="rotate(135)"/>
<rect x="-10.5" y="-10" width="6.4" height="6.4" fill="#d1cfd2"/>
<rect x="2.9" y="-0.6" width="6.4" height="6.4" fill="#d1cfd2"/>
<rect x="-14" y="3.2" width="6.4" height="6.4" fill="#d1cfd2"/>
</g>
<g transform="translate(976.2 124.1)">
<path d="M-10.5 -25L-10.5 -27.5C-7.9 -30.5 -6.4 -32 -6.4 -34.5C-6.4 -37.5 -9.7 -41.05 -9.7 -45.05C-9.7 -49 -8.7 -50 -6.2 -50L6.2 -50C8.7 -50 9.7 -49 9.7 -45.05C9.7 -41.05 6.4 -37.5 6.4 -34.5C6.4 -32 7.9 -30.5 10.5 -27.5L10.5 -25Z" fill="#c3c7c8" transform="rotate(0)"/>
<path d="M-10.5 -25L-10.5 -27.5C-7.9 -30.5 -6.4 -32 -6.4 -34.5C-6.4 -37.5 -9.7 -41.05 -9.7 -45.05C-9.7 -49 -8.7 -50 -6.2 -50L6.2 -50C8.7 -50 9.7 -49 9.7 -45.05C9.7 -41.05 6.4 -37.5 6.4 -34.5C6.4 -32 7.9 -30.5 10.5 -27.5L10.5 -25Z" fill="#c3c7c8" transform="rotate(270)"/>
<path d="M-10.5 -25L-10.5 -27.5C-7.9 -30.5 -6.4 -32 -6.4 -34.5C-6.4 -37.5 -9.7 -41.05 -9.7 -45.05C-9.7 -49 -8.7 -50 -6.2 -50L6.2 -50C8.7 -50 9.7 -49 9.7 -45.05C9.7 -41.05 6.4 -37.5 6.4 -34.5C6.4 -32 7.9 -30.5 10.5 -27.5L10.5 -25Z" fill="#b9bdbf" transform="rotate(90)"/>
<path d="M-10.5 -25L-10.5 -27.5C-7.9 -30.5 -6.4 -32 -6.4 -34.5C-6.4 -37.5 -9.7 -41.05 -9.7 -45.05C-9.7 -49 -8.7 -50 -6.2 -50L6.2 -50C8.7 -50 9.7 -49 9.7 -45.05C9.7 -41.05 6.4 -37.5 6.4 -34.5C6.4 -32 7.9 -30.5 10.5 -27.5L10.5 -25Z" fill="#b9bdbf" transform="rotate(180)"/>
<path d="M-10.5 -25L-10.5 -27.5C-7.9 -30.5 -6.4 -33 -6.4 -36.5C-6.4 -39.5 -9.7 -43.05 -9.7 -47.05C-9.7 -51 -8.7 -52 -6.2 -52L6.2 -52C8.7 -52 9.7 -51 9.7 -47.05C9.7 -43.05 6.4 -39.5 6.4 -36.5C6.4 -33 7.9 -30.5 10.5 -27.5L10.5 -25Z" fill="#b9bdbf" transform="rotate(135)"/>
<path d="M-11.5 -25L-11.5 -27.5C-8.5 -30.5 -7 -33.5 -7 -37.5C-7 -40.5 -10.4 -44.05 -10.4 -48.05C-10.4 -52 -9.4 -53 -6.9 -53L6.9 -53C9.4 -53 10.4 -52 10.4 -48.05C10.4 -44.05 7 -40.5 7 -37.5C7 -33.5 8.5 -30.5 11.5 -27.5L11.5 -25Z" fill="#c9cbcd" transform="rotate(315)"/>
<path d="M-11.5 -25L-11.5 -27.5C-8.5 -30.5 -7 -33.5 -7 -37.5C-7 -40.5 -10.4 -44.05 -10.4 -48.05C-10.4 -52 -9.4 -53 -6.9 -53L6.9 -53C9.4 -53 10.4 -52 10.4 -48.05C10.4 -44.05 7 -40.5 7 -37.5C7 -33.5 8.5 -30.5 11.5 -27.5L11.5 -25Z" fill="#c9cbcd" transform="rotate(45)"/>
<path d="M-11.5 -25L-11.5 -27.5C-8.5 -30.5 -7 -33.5 -7 -37.5C-7 -40.5 -10.4 -44.05 -10.4 -48.05C-10.4 -52 -9.4 -53 -6.9 -53L6.9 -53C9.4 -53 10.4 -52 10.4 -48.05C10.4 -44.05 7 -40.5 7 -37.5C7 -33.5 8.5 -30.5 11.5 -27.5L11.5 -25Z" fill="#c9cbcd" transform="rotate(225)"/>
<circle r="30" fill="#b9bdbf"/>
<circle cx="-22.8" cy="-22.8" r="53.9" fill="#c3c7c8" clip-path="url(#cb3)"/>
<path d="M-7 -8L-7 -27.5C-8.5 -30.5 -7 -33.5 -7 -37.5C-7 -40.5 -10.4 -44.05 -10.4 -48.05C-10.4 -52 -9.4 -53 -6.9 -53L6.9 -53C9.4 -53 10.4 -52 10.4 -48.05C10.4 -44.05 7 -40.5 7 -37.5C7 -33.5 8.5 -30.5 7 -27.5L7 -8Z" fill="#c9cbcd" transform="rotate(315)"/>
<path d="M-7 -8L-7 -27.5C-8.5 -30.5 -7 -33.5 -7 -37.5C-7 -40.5 -10.4 -44.05 -10.4 -48.05C-10.4 -52 -9.4 -53 -6.9 -53L6.9 -53C9.4 -53 10.4 -52 10.4 -48.05C10.4 -44.05 7 -40.5 7 -37.5C7 -33.5 8.5 -30.5 7 -27.5L7 -8Z" fill="#c9cbcd" transform="rotate(45)"/>
<path d="M-7 -8L-7 -27.5C-8.5 -30.5 -7 -33.5 -7 -37.5C-7 -40.5 -10.4 -44.05 -10.4 -48.05C-10.4 -52 -9.4 -53 -6.9 -53L6.9 -53C9.4 -53 10.4 -52 10.4 -48.05C10.4 -44.05 7 -40.5 7 -37.5C7 -33.5 8.5 -30.5 7 -27.5L7 -8Z" fill="#c9cbcd" transform="rotate(225)"/>
</g>
<g transform="translate(996.2 236.6)">
<rect x="-3.3" y="-33" width="6.6" height="14" fill="#c6cacb" transform="rotate(0)"/>
<rect x="-3.3" y="-33" width="6.6" height="14" fill="#c6cacb" transform="rotate(30)"/>
<rect x="-3.3" y="-33" width="6.6" height="14" fill="#c6cacb" transform="rotate(60)"/>
<rect x="-3.3" y="-33" width="6.6" height="14" fill="#c6cacb" transform="rotate(90)"/>
<rect x="-3.3" y="-33" width="6.6" height="14" fill="#c6cacb" transform="rotate(120)"/>
<rect x="-3.3" y="-33" width="6.6" height="14" fill="#c6cacb" transform="rotate(150)"/>
<rect x="-3.3" y="-33" width="6.6" height="14" fill="#c6cacb" transform="rotate(180)"/>
<rect x="-3.3" y="-33" width="6.6" height="14" fill="#c6cacb" transform="rotate(210)"/>
<rect x="-3.3" y="-33" width="6.6" height="14" fill="#c6cacb" transform="rotate(240)"/>
<rect x="-3.3" y="-33" width="6.6" height="14" fill="#c6cacb" transform="rotate(270)"/>
<rect x="-3.3" y="-33" width="6.6" height="14" fill="#c6cacb" transform="rotate(300)"/>
<rect x="-3.3" y="-33" width="6.6" height="14" fill="#c6cacb" transform="rotate(330)"/>
<circle r="22.7" fill="#c3c7c8"/>
<circle cx="-4" cy="-4" r="23.3" fill="#c9cbcd" clip-path="url(#cd3)"/>
<rect x="-10" y="-13.1" width="6.4" height="6.4" fill="#d1cfd2"/>
<rect x="3.7" y="-6.5" width="6.4" height="6.4" fill="#d1cfd2"/>
<rect x="-13.1" y="0.7" width="6.4" height="6.4" fill="#d1cfd2"/>
<rect x="-0.3" y="6.8" width="6.4" height="6.4" fill="#d1cfd2"/>
</g>
</g>
</g>
<line x1="91.5" y1="361.2" x2="712.1" y2="361.2" stroke="#222b29" stroke-width="5.6" stroke-linecap="round"/>
<line x1="125.6" y1="346.6" x2="125.6" y2="361.2" stroke="#222b29" stroke-width="5.6" stroke-linecap="round"/>
<line x1="153.25" y1="346.6" x2="153.25" y2="361.2" stroke="#222b29" stroke-width="5.6" stroke-linecap="round"/>
<line x1="180.89" y1="346.6" x2="180.89" y2="361.2" stroke="#222b29" stroke-width="5.6" stroke-linecap="round"/>
<line x1="208.53" y1="346.6" x2="208.53" y2="361.2" stroke="#222b29" stroke-width="5.6" stroke-linecap="round"/>
<line x1="236.18" y1="346.6" x2="236.18" y2="361.2" stroke="#222b29" stroke-width="5.6" stroke-linecap="round"/>
<line x1="263.82" y1="346.6" x2="263.82" y2="361.2" stroke="#222b29" stroke-width="5.6" stroke-linecap="round"/>
<line x1="291.47" y1="346.6" x2="291.47" y2="361.2" stroke="#222b29" stroke-width="5.6" stroke-linecap="round"/>
<line x1="319.12" y1="346.6" x2="319.12" y2="361.2" stroke="#222b29" stroke-width="5.6" stroke-linecap="round"/>
<line x1="346.76" y1="346.6" x2="346.76" y2="361.2" stroke="#222b29" stroke-width="5.6" stroke-linecap="round"/>
<line x1="374.4" y1="346.6" x2="374.4" y2="361.2" stroke="#222b29" stroke-width="5.6" stroke-linecap="round"/>
<line x1="402.05" y1="346.6" x2="402.05" y2="361.2" stroke="#222b29" stroke-width="5.6" stroke-linecap="round"/>
<line x1="429.69" y1="346.6" x2="429.69" y2="361.2" stroke="#222b29" stroke-width="5.6" stroke-linecap="round"/>
<line x1="457.34" y1="346.6" x2="457.34" y2="361.2" stroke="#222b29" stroke-width="5.6" stroke-linecap="round"/>
<line x1="484.99" y1="346.6" x2="484.99" y2="361.2" stroke="#222b29" stroke-width="5.6" stroke-linecap="round"/>
<line x1="512.63" y1="346.6" x2="512.63" y2="361.2" stroke="#222b29" stroke-width="5.6" stroke-linecap="round"/>
<line x1="540.27" y1="346.6" x2="540.27" y2="361.2" stroke="#222b29" stroke-width="5.6" stroke-linecap="round"/>
<line x1="567.92" y1="346.6" x2="567.92" y2="361.2" stroke="#222b29" stroke-width="5.6" stroke-linecap="round"/>
<line x1="595.56" y1="346.6" x2="595.56" y2="361.2" stroke="#222b29" stroke-width="5.6" stroke-linecap="round"/>
<line x1="623.21" y1="346.6" x2="623.21" y2="361.2" stroke="#222b29" stroke-width="5.6" stroke-linecap="round"/>
<line x1="650.86" y1="346.6" x2="650.86" y2="361.2" stroke="#222b29" stroke-width="5.6" stroke-linecap="round"/>
<line x1="678.5" y1="346.6" x2="678.5" y2="361.2" stroke="#222b29" stroke-width="5.6" stroke-linecap="round"/>
<g>
<defs><clipPath id="ca4"><circle r="22.9"/></clipPath><clipPath id="cb4"><circle r="30"/></clipPath><clipPath id="cc4"><circle r="39.5"/></clipPath><clipPath id="cd4"><circle r="22.7"/></clipPath></defs>
<rect x="913.5" y="103.6" width="6.6" height="6.6" fill="#f4999c"/>
<rect x="903.3" y="120.4" width="6.6" height="6.6" fill="#f4999c"/>
<rect x="836.8" y="140.5" width="6.6" height="6.6" fill="#f4999c"/>
<rect x="1016.3" y="173.8" width="6.6" height="6.6" fill="#f4999c"/>
<rect x="973.1" y="187.1" width="6.6" height="6.6" fill="#f4999c"/>
<rect x="999.6" y="187.1" width="6.6" height="6.6" fill="#f4999c"/>
<rect x="1022.6" y="197.1" width="6.6" height="6.6" fill="#f4999c"/>
<rect x="949.7" y="263.1" width="6.6" height="6.6" fill="#f4999c"/>
<circle cx="912.7" cy="80.9" r="6.1" fill="#f3cdd0"/>
<g transform="translate(863.3 104)">
<rect x="-3.3" y="-33" width="6.6" height="14" fill="#e87e81" transform="rotate(0)"/>
<rect x="-3.3" y="-33" width="6.6" height="14" fill="#e87e81" transform="rotate(30)"/>
<rect x="-3.3" y="-33" width="6.6" height="14" fill="#e87e81" transform="rotate(60)"/>
<rect x="-3.3" y="-33" width="6.6" height="14" fill="#e87e81" transform="rotate(90)"/>
<rect x="-3.3" y="-33" width="6.6" height="14" fill="#e87e81" transform="rotate(120)"/>
<rect x="-3.3" y="-33" width="6.6" height="14" fill="#e87e81" transform="rotate(150)"/>
<rect x="-3.3" y="-33" width="6.6" height="14" fill="#e87e81" transform="rotate(180)"/>
<rect x="-3.3" y="-33" width="6.6" height="14" fill="#e87e81" transform="rotate(210)"/>
<rect x="-3.3" y="-33" width="6.6" height="14" fill="#e87e81" transform="rotate(240)"/>
<rect x="-3.3" y="-33" width="6.6" height="14" fill="#e87e81" transform="rotate(270)"/>
<rect x="-3.3" y="-33" width="6.6" height="14" fill="#e87e81" transform="rotate(300)"/>
<rect x="-3.3" y="-33" width="6.6" height="14" fill="#e87e81" transform="rotate(330)"/>
<circle r="22.9" fill="#bd5f62"/>
<circle cx="-6" cy="-6" r="25.5" fill="#d46f72" clip-path="url(#ca4)"/>
<rect x="0" y="-13.2" width="6.6" height="6.6" fill="#f4999c"/>
<rect x="-13.2" y="-6.6" width="6.6" height="6.6" fill="#f4999c"/>
<rect x="6.9" y="-0.4" width="6.6" height="6.6" fill="#f4999c"/>
<rect x="-6.4" y="6.7" width="6.6" height="6.6" fill="#f4999c"/>
</g>
<g transform="translate(896.7 203.6)">
<path d="M-10.5 -35.5L-10.5 -38C-7.6 -41 -6.1 -44.35 -6.1 -48.7C-6.1 -51.7 -9.85 -54.7 -9.85 -58.7C-9.85 -62.2 -8.85 -63.2 -6.35 -63.2L6.35 -63.2C8.85 -63.2 9.85 -62.2 9.85 -58.7C9.85 -54.7 6.1 -51.7 6.1 -48.7C6.1 -44.35 7.6 -41 10.5 -38L10.5 -35.5Z" fill="#e87e81" transform="rotate(0)"/>
<path d="M-10.5 -35.5L-10.5 -38C-7.6 -41 -6.1 -44.35 -6.1 -48.7C-6.1 -51.7 -9.85 -54.7 -9.85 -58.7C-9.85 -62.2 -8.85 -63.2 -6.35 -63.2L6.35 -63.2C8.85 -63.2 9.85 -62.2 9.85 -58.7C9.85 -54.7 6.1 -51.7 6.1 -48.7C6.1 -44.35 7.6 -41 10.5 -38L10.5 -35.5Z" fill="#e87e81" transform="rotate(270)"/>
<path d="M-10.5 -35.5L-10.5 -38C-7.6 -41 -6.1 -44.35 -6.1 -48.7C-6.1 -51.7 -9.85 -54.7 -9.85 -58.7C-9.85 -62.2 -8.85 -63.2 -6.35 -63.2L6.35 -63.2C8.85 -63.2 9.85 -62.2 9.85 -58.7C9.85 -54.7 6.1 -51.7 6.1 -48.7C6.1 -44.35 7.6 -41 10.5 -38L10.5 -35.5Z" fill="#d46f72" transform="rotate(90)"/>
<path d="M-10.5 -35.5L-10.5 -38C-7.6 -41 -6.1 -44.35 -6.1 -48.7C-6.1 -51.7 -9.85 -54.7 -9.85 -58.7C-9.85 -62.2 -8.85 -63.2 -6.35 -63.2L6.35 -63.2C8.85 -63.2 9.85 -62.2 9.85 -58.7C9.85 -54.7 6.1 -51.7 6.1 -48.7C6.1 -44.35 7.6 -41 10.5 -38L10.5 -35.5Z" fill="#d46f72" transform="rotate(180)"/>
<path d="M-11.5 -35.5L-11.5 -38C-8.4 -41 -6.9 -45.25 -6.9 -50.5C-6.9 -53.5 -10.6 -56.77 -10.6 -60.77C-10.6 -64.5 -9.6 -65.5 -7.1 -65.5L7.1 -65.5C9.6 -65.5 10.6 -64.5 10.6 -60.77C10.6 -56.77 6.9 -53.5 6.9 -50.5C6.9 -45.25 8.4 -41 11.5 -38L11.5 -35.5Z" fill="#d46f72" transform="rotate(315)"/>
<path d="M-11.5 -35.5L-11.5 -38C-8.4 -41 -6.9 -45.25 -6.9 -50.5C-6.9 -53.5 -10.6 -56.77 -10.6 -60.77C-10.6 -64.5 -9.6 -65.5 -7.1 -65.5L7.1 -65.5C9.6 -65.5 10.6 -64.5 10.6 -60.77C10.6 -56.77 6.9 -53.5 6.9 -50.5C6.9 -45.25 8.4 -41 11.5 -38L11.5 -35.5Z" fill="#d46f72" transform="rotate(45)"/>
<path d="M-11.5 -35.5L-11.5 -38C-8.4 -41 -6.9 -45.25 -6.9 -50.5C-6.9 -53.5 -10.6 -56.77 -10.6 -60.77C-10.6 -64.5 -9.6 -65.5 -7.1 -65.5L7.1 -65.5C9.6 -65.5 10.6 -64.5 10.6 -60.77C10.6 -56.77 6.9 -53.5 6.9 -50.5C6.9 -45.25 8.4 -41 11.5 -38L11.5 -35.5Z" fill="#d46f72" transform="rotate(225)"/>
<path d="M-11.5 -35.5L-11.5 -38C-8.4 -41 -6.9 -45.25 -6.9 -50.5C-6.9 -53.5 -10.6 -56.77 -10.6 -60.77C-10.6 -64.5 -9.6 -65.5 -7.1 -65.5L7.1 -65.5C9.6 -65.5 10.6 -64.5 10.6 -60.77C10.6 -56.77 6.9 -53.5 6.9 -50.5C6.9 -45.25 8.4 -41 11.5 -38L11.5 -35.5Z" fill="#bd5f62" transform="rotate(135)"/>
<circle r="39.5" fill="#d46f72"/>
<circle cx="-31.9" cy="-31.9" r="70.5" fill="#e87e81" clip-path="url(#cc4)"/>
<path d="M-6.9 -13.5L-6.9 -38C-8.4 -41 -6.9 -45.25 -6.9 -50.5C-6.9 -53.5 -10.6 -56.77 -10.6 -60.77C-10.6 -64.5 -9.6 -65.5 -7.1 -65.5L7.1 -65.5C9.6 -65.5 10.6 -64.5 10.6 -60.77C10.6 -56.77 6.9 -53.5 6.9 -50.5C6.9 -45.25 8.4 -41 6.9 -38L6.9 -13.5Z" fill="#d46f72" transform="rotate(315)"/>
<path d="M-6.9 -13.5L-6.9 -38C-8.4 -41 -6.9 -45.25 -6.9 -50.5C-6.9 -53.5 -10.6 -56.77 -10.6 -60.77C-10.6 -64.5 -9.6 -65.5 -7.1 -65.5L7.1 -65.5C9.6 -65.5 10.6 -64.5 10.6 -60.77C10.6 -56.77 6.9 -53.5 6.9 -50.5C6.9 -45.25 8.4 -41 6.9 -38L6.9 -13.5Z" fill="#d46f72" transform="rotate(45)"/>
<path d="M-6.9 -13.5L-6.9 -38C-8.4 -41 -6.9 -45.25 -6.9 -50.5C-6.9 -53.5 -10.6 -56.77 -10.6 -60.77C-10.6 -64.5 -9.6 -65.5 -7.1 -65.5L7.1 -65.5C9.6 -65.5 10.6 -64.5 10.6 -60.77C10.6 -56.77 6.9 -53.5 6.9 -50.5C6.9 -45.25 8.4 -41 6.9 -38L6.9 -13.5Z" fill="#d46f72" transform="rotate(225)"/>
<path d="M-6.9 -13.5L-6.9 -38C-8.4 -41 -6.9 -45.25 -6.9 -50.5C-6.9 -53.5 -10.6 -56.77 -10.6 -60.77C-10.6 -64.5 -9.6 -65.5 -7.1 -65.5L7.1 -65.5C9.6 -65.5 10.6 -64.5 10.6 -60.77C10.6 -56.77 6.9 -53.5 6.9 -50.5C6.9 -45.25 8.4 -41 6.9 -38L6.9 -13.5Z" fill="#bd5f62" transform="rotate(135)"/>
<rect x="-10.5" y="-10" width="6.4" height="6.4" fill="#f4999c"/>
<rect x="2.9" y="-0.6" width="6.4" height="6.4" fill="#f4999c"/>
<rect x="-14" y="3.2" width="6.4" height="6.4" fill="#f4999c"/>
</g>
<g transform="translate(976.2 124.1)">
<path d="M-10.5 -25L-10.5 -27.5C-7.9 -30.5 -6.4 -32 -6.4 -34.5C-6.4 -37.5 -9.7 -41.05 -9.7 -45.05C-9.7 -49 -8.7 -50 -6.2 -50L6.2 -50C8.7 -50 9.7 -49 9.7 -45.05C9.7 -41.05 6.4 -37.5 6.4 -34.5C6.4 -32 7.9 -30.5 10.5 -27.5L10.5 -25Z" fill="#d46f72" transform="rotate(0)"/>
<path d="M-10.5 -25L-10.5 -27.5C-7.9 -30.5 -6.4 -32 -6.4 -34.5C-6.4 -37.5 -9.7 -41.05 -9.7 -45.05C-9.7 -49 -8.7 -50 -6.2 -50L6.2 -50C8.7 -50 9.7 -49 9.7 -45.05C9.7 -41.05 6.4 -37.5 6.4 -34.5C6.4 -32 7.9 -30.5 10.5 -27.5L10.5 -25Z" fill="#d46f72" transform="rotate(270)"/>
<path d="M-10.5 -25L-10.5 -27.5C-7.9 -30.5 -6.4 -32 -6.4 -34.5C-6.4 -37.5 -9.7 -41.05 -9.7 -45.05C-9.7 -49 -8.7 -50 -6.2 -50L6.2 -50C8.7 -50 9.7 -49 9.7 -45.05C9.7 -41.05 6.4 -37.5 6.4 -34.5C6.4 -32 7.9 -30.5 10.5 -27.5L10.5 -25Z" fill="#a45558" transform="rotate(90)"/>
<path d="M-10.5 -25L-10.5 -27.5C-7.9 -30.5 -6.4 -32 -6.4 -34.5C-6.4 -37.5 -9.7 -41.05 -9.7 -45.05C-9.7 -49 -8.7 -50 -6.2 -50L6.2 -50C8.7 -50 9.7 -49 9.7 -45.05C9.7 -41.05 6.4 -37.5 6.4 -34.5C6.4 -32 7.9 -30.5 10.5 -27.5L10.5 -25Z" fill="#a45558" transform="rotate(180)"/>
<path d="M-10.5 -25L-10.5 -27.5C-7.9 -30.5 -6.4 -33 -6.4 -36.5C-6.4 -39.5 -9.7 -43.05 -9.7 -47.05C-9.7 -51 -8.7 -52 -6.2 -52L6.2 -52C8.7 -52 9.7 -51 9.7 -47.05C9.7 -43.05 6.4 -39.5 6.4 -36.5C6.4 -33 7.9 -30.5 10.5 -27.5L10.5 -25Z" fill="#a45558" transform="rotate(135)"/>
<path d="M-11.5 -25L-11.5 -27.5C-8.5 -30.5 -7 -33.5 -7 -37.5C-7 -40.5 -10.4 -44.05 -10.4 -48.05C-10.4 -52 -9.4 -53 -6.9 -53L6.9 -53C9.4 -53 10.4 -52 10.4 -48.05C10.4 -44.05 7 -40.5 7 -37.5C7 -33.5 8.5 -30.5 11.5 -27.5L11.5 -25Z" fill="#e87e81" transform="rotate(315)"/>
<path d="M-11.5 -25L-11.5 -27.5C-8.5 -30.5 -7 -33.5 -7 -37.5C-7 -40.5 -10.4 -44.05 -10.4 -48.05C-10.4 -52 -9.4 -53 -6.9 -53L6.9 -53C9.4 -53 10.4 -52 10.4 -48.05C10.4 -44.05 7 -40.5 7 -37.5C7 -33.5 8.5 -30.5 11.5 -27.5L11.5 -25Z" fill="#e87e81" transform="rotate(45)"/>
<path d="M-11.5 -25L-11.5 -27.5C-8.5 -30.5 -7 -33.5 -7 -37.5C-7 -40.5 -10.4 -44.05 -10.4 -48.05C-10.4 -52 -9.4 -53 -6.9 -53L6.9 -53C9.4 -53 10.4 -52 10.4 -48.05C10.4 -44.05 7 -40.5 7 -37.5C7 -33.5 8.5 -30.5 11.5 -27.5L11.5 -25Z" fill="#e87e81" transform="rotate(225)"/>
<circle r="30" fill="#a45558"/>
<circle cx="-22.8" cy="-22.8" r="53.9" fill="#d46f72" clip-path="url(#cb4)"/>
<path d="M-7 -8L-7 -27.5C-8.5 -30.5 -7 -33.5 -7 -37.5C-7 -40.5 -10.4 -44.05 -10.4 -48.05C-10.4 -52 -9.4 -53 -6.9 -53L6.9 -53C9.4 -53 10.4 -52 10.4 -48.05C10.4 -44.05 7 -40.5 7 -37.5C7 -33.5 8.5 -30.5 7 -27.5L7 -8Z" fill="#e87e81" transform="rotate(315)"/>
<path d="M-7 -8L-7 -27.5C-8.5 -30.5 -7 -33.5 -7 -37.5C-7 -40.5 -10.4 -44.05 -10.4 -48.05C-10.4 -52 -9.4 -53 -6.9 -53L6.9 -53C9.4 -53 10.4 -52 10.4 -48.05C10.4 -44.05 7 -40.5 7 -37.5C7 -33.5 8.5 -30.5 7 -27.5L7 -8Z" fill="#e87e81" transform="rotate(45)"/>
<path d="M-7 -8L-7 -27.5C-8.5 -30.5 -7 -33.5 -7 -37.5C-7 -40.5 -10.4 -44.05 -10.4 -48.05C-10.4 -52 -9.4 -53 -6.9 -53L6.9 -53C9.4 -53 10.4 -52 10.4 -48.05C10.4 -44.05 7 -40.5 7 -37.5C7 -33.5 8.5 -30.5 7 -27.5L7 -8Z" fill="#e87e81" transform="rotate(225)"/>
</g>
<g transform="translate(996.2 236.6)">
<rect x="-3.3" y="-33" width="6.6" height="14" fill="#d7696d" transform="rotate(0)"/>
<rect x="-3.3" y="-33" width="6.6" height="14" fill="#d7696d" transform="rotate(30)"/>
<rect x="-3.3" y="-33" width="6.6" height="14" fill="#d7696d" transform="rotate(60)"/>
<rect x="-3.3" y="-33" width="6.6" height="14" fill="#d7696d" transform="rotate(90)"/>
<rect x="-3.3" y="-33" width="6.6" height="14" fill="#d7696d" transform="rotate(120)"/>
<rect x="-3.3" y="-33" width="6.6" height="14" fill="#d7696d" transform="rotate(150)"/>
<rect x="-3.3" y="-33" width="6.6" height="14" fill="#d7696d" transform="rotate(180)"/>
<rect x="-3.3" y="-33" width="6.6" height="14" fill="#d7696d" transform="rotate(210)"/>
<rect x="-3.3" y="-33" width="6.6" height="14" fill="#d7696d" transform="rotate(240)"/>
<rect x="-3.3" y="-33" width="6.6" height="14" fill="#d7696d" transform="rotate(270)"/>
<rect x="-3.3" y="-33" width="6.6" height="14" fill="#d7696d" transform="rotate(300)"/>
<rect x="-3.3" y="-33" width="6.6" height="14" fill="#d7696d" transform="rotate(330)"/>
<circle r="22.7" fill="#d46f72"/>
<circle cx="-4" cy="-4" r="23.3" fill="#e87e81" clip-path="url(#cd4)"/>
<rect x="-10" y="-13.1" width="6.4" height="6.4" fill="#f4999c"/>
<rect x="3.7" y="-6.5" width="6.4" height="6.4" fill="#f4999c"/>
<rect x="-13.1" y="0.7" width="6.4" height="6.4" fill="#f4999c"/>
<rect x="-0.3" y="6.8" width="6.4" height="6.4" fill="#f4999c"/>
</g>
</g>
<rect x="107.8" y="628.4" width="90.3" height="371.3" fill="#fe914c"/>
<rect x="257.6" y="490.3" width="96.8" height="509.4" fill="#ffde59"/>
<rect x="435.2" y="458.8" width="395.6" height="516.8" fill="#ffffff"/>
<g fill="#221f1f">
<path d="M945.3 500V403.4Q945.3 398.9 949.8 398.9H973.4Q977.9 398.9 977.9 403.4V500Z"/>
<path d="M945.3 480.6C927 487.5 903.4 507 902.8 539V871A19 19 0 0 0 921.8 890H1001.7A19 19 0 0 0 1020.7 871V539C1020.1 507 996.2 487.5 977.9 480.6Z"/>
<path d="M985 425.6H996.4Q1000.4 425.6 1000.4 429.6V431.2H1006V449.3H1000.4V451.2Q1000.4 455.2 996.4 455.2H985Z"/>
<rect x="1005.1" y="416.2" width="13.7" height="49.1" rx="3"/>
</g>
<circle cx="961.5" cy="440.6" r="31.3" fill="#c5e7e5"/>
<circle cx="961.5" cy="440.6" r="27.7" fill="#221f1f"/>
<circle cx="961.5" cy="440.6" r="15.45" fill="none" stroke="#c5e7e5" stroke-width="9.3"/>
<path d="M950.5 419L972.5 419L968.5 433L954.5 433Z" fill="#221f1f"/>
<rect x="973" y="984" width="75.3" height="75.8" fill="url(#toig)"/>
<path d="M973 984H1048.3V1013.5L973 1028Z" fill="#ffffff" fill-opacity="0.09"/>
</svg>
<span id="t1" class="t" style="left:77px;top:73.75px;font-size:65.5px;color:#d94a4c;font-weight:700;letter-spacing:1.42px;font-family:'Liberation Sans',sans-serif;transform:scaleX(1.06);-webkit-text-stroke:2.6px #d94a4c;">Oxygen</span>
<span id="t2" class="t" style="left:79px;top:149.25px;font-size:65.5px;color:#d94a4c;font-weight:700;letter-spacing:2.17px;font-family:'Liberation Sans',sans-serif;transform:scaleX(1.08);-webkit-text-stroke:2.6px #d94a4c;">requirement:</span>
<span id="t3" class="t" style="left:557.4px;top:149.25px;font-size:65.5px;color:#000000;font-weight:700;letter-spacing:0.9px;font-family:'Liberation Sans',sans-serif;transform:scaleX(1.0);-webkit-text-stroke:2.6px #000000;">First</span>
<span id="t4a" class="t" style="left:80.2px;top:225.55px;font-size:65.5px;color:#000000;font-weight:700;letter-spacing:2px;font-family:'Liberation Sans',sans-serif;transform:scaleX(1.0);-webkit-text-stroke:2.6px #000000;">vs</span>
<span id="t4b" class="t" style="left:175.8px;top:225.55px;font-size:65.5px;color:#000000;font-weight:700;letter-spacing:0.54px;font-family:'Liberation Sans',sans-serif;transform:scaleX(1.08);-webkit-text-stroke:2.6px #000000;">second</span>
<span id="t4c" class="t" style="left:448.6px;top:225.55px;font-size:65.5px;color:#000000;font-weight:700;letter-spacing:2.15px;font-family:'Liberation Sans',sans-serif;transform:scaleX(1.1);-webkit-text-stroke:2.6px #000000;">wave</span>
<span id="p1" class="t" style="left:106.6px;top:570.46px;font-size:31px;color:#cf4a50;font-weight:700;letter-spacing:1.15px;font-family:'Liberation Sans',sans-serif;">41.5%</span>
<span id="p2" class="t" style="left:261.6px;top:444.46px;font-size:31px;color:#cf4a50;font-weight:700;letter-spacing:1.1px;font-family:'Liberation Sans',sans-serif;">54.5%</span>
<span id="b1" class="t" style="left:458.4px;top:489.34px;font-size:25px;color:#2e2e2e;font-weight:400;letter-spacing:4.21px;font-family:'Liberation Sans',sans-serif;transform:scaleX(1.14);">About 41.5 per cent</span>
<span id="b2" class="t" style="left:456.4px;top:528.64px;font-size:25px;color:#2e2e2e;font-weight:400;letter-spacing:4.9px;font-family:'Liberation Sans',sans-serif;transform:scaleX(1.14);">patients required</span>
<span id="b3" class="t" style="left:457.4px;top:567.94px;font-size:25px;color:#2e2e2e;font-weight:400;letter-spacing:4.52px;font-family:'Liberation Sans',sans-serif;transform:scaleX(1.14);">oxygen in the first</span>
<span id="b4" class="t" style="left:458.4px;top:607.24px;font-size:25px;color:#2e2e2e;font-weight:400;letter-spacing:4.53px;font-family:'Liberation Sans',sans-serif;transform:scaleX(1.14);">wave and  54.5 per</span>
<span id="b5" class="t" style="left:457.4px;top:646.54px;font-size:25px;color:#2e2e2e;font-weight:400;letter-spacing:4.96px;font-family:'Liberation Sans',sans-serif;transform:scaleX(1.14);">cent patients</span>
<span id="b6" class="t" style="left:456.4px;top:685.84px;font-size:25px;color:#2e2e2e;font-weight:400;letter-spacing:4.52px;font-family:'Liberation Sans',sans-serif;transform:scaleX(1.14);">require oxygen in</span>
<span id="b7" class="t" style="left:457.4px;top:725.14px;font-size:25px;color:#2e2e2e;font-weight:400;letter-spacing:4.54px;font-family:'Liberation Sans',sans-serif;transform:scaleX(1.14);">second wave, said</span>
<span id="b8" class="t" style="left:455.4px;top:764.44px;font-size:25px;color:#2e2e2e;font-weight:400;letter-spacing:4.66px;font-family:'Liberation Sans',sans-serif;transform:scaleX(1.14);">Indian Council of</span>
<span id="b9" class="t" style="left:456.4px;top:803.74px;font-size:25px;color:#2e2e2e;font-weight:400;letter-spacing:4.41px;font-family:'Liberation Sans',sans-serif;transform:scaleX(1.14);">Medical Research</span>
<span id="b10" class="t" style="left:456.4px;top:843.04px;font-size:25px;color:#2e2e2e;font-weight:400;letter-spacing:4.93px;font-family:'Liberation Sans',sans-serif;transform:scaleX(1.14);">(ICMR) director-</span>
<span id="b11" class="t" style="left:457.4px;top:882.34px;font-size:25px;color:#2e2e2e;font-weight:400;letter-spacing:4.29px;font-family:'Liberation Sans',sans-serif;transform:scaleX(1.14);">general, Dr Balram</span>
<span id="b12" class="t" style="left:456.4px;top:921.64px;font-size:25px;color:#2e2e2e;font-weight:400;letter-spacing:4.77px;font-family:'Liberation Sans',sans-serif;transform:scaleX(1.14);">Bhargava</span>
<span id="r1" class="t" style="left:132.15px;top:927.2px;font-size:44px;color:#ffffff;font-weight:700;letter-spacing:0.69px;font-family:'Liberation Sans',sans-serif;transform:rotate(-90deg);">First wave</span>
<span id="r2" class="t" style="left:285.35px;top:920.2px;font-size:44px;color:#ffffff;font-weight:700;letter-spacing:0.13px;font-family:'Liberation Sans',sans-serif;transform:rotate(-90deg);">Second wave</span>
<span id="r3" class="t" style="left:933.98px;top:785.6px;font-size:52px;color:#c8e9e7;font-weight:700;letter-spacing:-0.76px;font-family:'Liberation Sans',sans-serif;transform:rotate(-90deg);-webkit-text-stroke:1.6px #c8e9e7;">OXYGEN</span>
<span id="toi" class="t" style="left:975.8px;top:1002.03px;font-size:42px;color:#f3eeee;font-weight:700;letter-spacing:-2.3px;font-family:'Liberation Serif',serif;">TOI</span>
</body></html>
